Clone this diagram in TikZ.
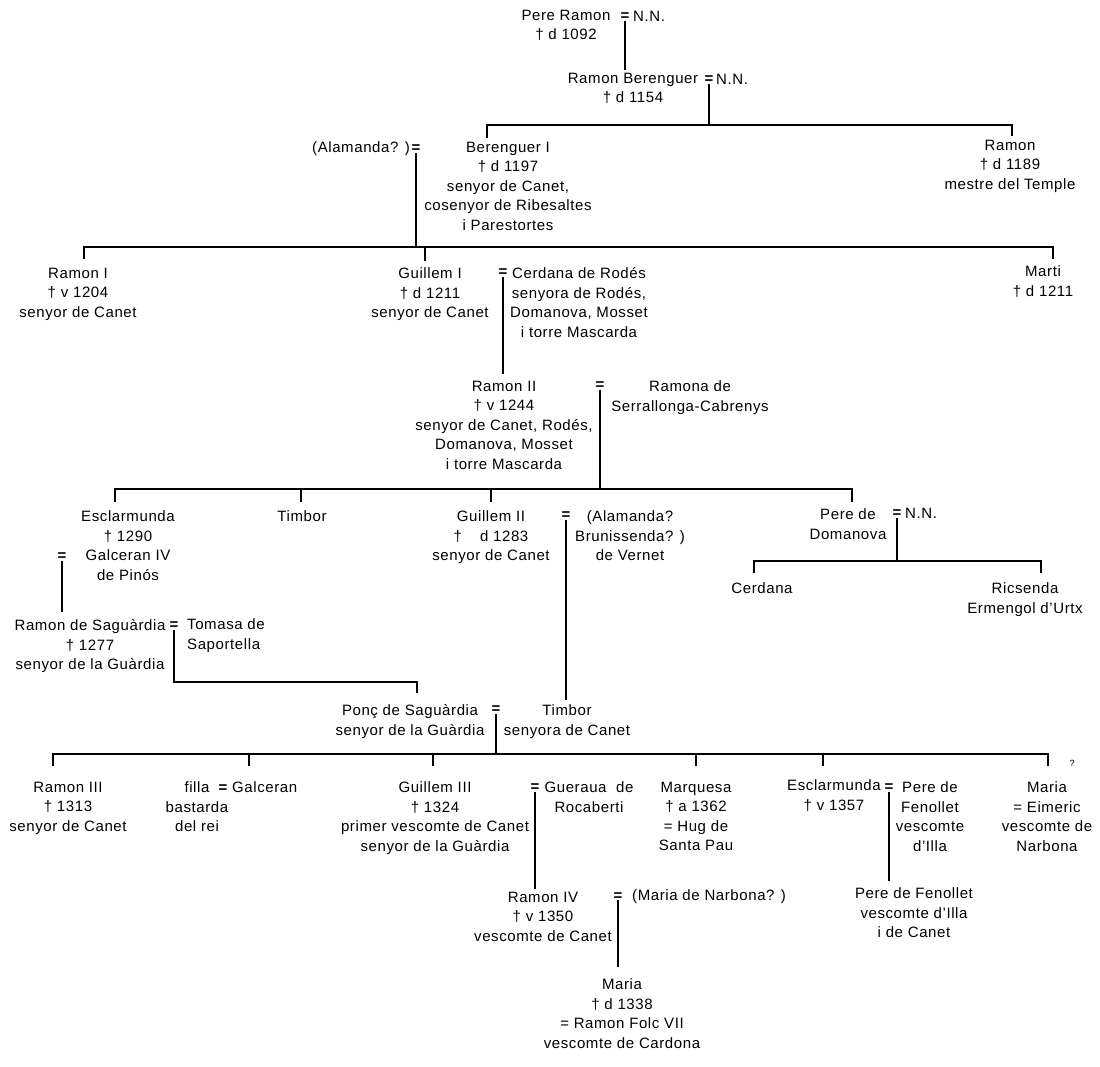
\documentclass[tikz,border=0pt]{standalone}
\usepackage{fontspec}
\setmainfont{Liberation Sans}[LetterSpace=4]
\usetikzlibrary{calc}
\tikzset{
  every node/.style={font=\fontsize{15}{19.5}\selectfont, inner sep=0pt, align=center},
  p/.style={anchor=north, align=center},
  pl/.style={anchor=north west, align=left},
  eqs/.style={anchor=base, font=\fontsize{15}{19.5}\selectfont\bfseries},
  lw/.style={anchor=base west},
  ln/.style={line width=1.3pt, line cap=butt}
}
\begin{document}
\begin{tikzpicture}[x=1pt,y=-1pt]
\useasboundingbox (0,0) rectangle (1100,1066);
\fill[white] (0,0) rectangle (1100,1066);

% ---------------- nodes ----------------
\node[p] (pr) at (566,9.5) {Pere Ramon\\† d 1092};
\node[eqs] (e0) at (625,20.5) {=};
\node[lw] (nn0) at (633,21) {N.N.};

\node[p] (rb) at (633,72.5) {Ramon Berenguer\\† d 1154};
\node[eqs] (e1) at (709,83.5) {=};
\node[lw] (nn1) at (716,84) {N.N.};

\node[p] (berI) at (508,141.5) {Berenguer I\\† d 1197\\senyor de Canet,\\cosenyor de Ribesaltes\\i Parestortes};
\node[anchor=base east] (alam) at (410,152.5) {(Alamanda? )};
\node[eqs] (e2) at (416,152.5) {=};
\node[p] (ramT) at (1010,139.5) {Ramon\\† d 1189\\mestre del Temple};

\node[p] (ramI) at (78,267.5) {Ramon I\\† v 1204\\senyor de Canet};
\node[p] (guiI) at (430,267.5) {Guillem I\\† d 1211\\senyor de Canet};
\node[eqs] (e3) at (503,276.5) {=};
\node[p] (cerd) at (579,267.5) {Cerdana de Rodés\\senyora de Rodés,\\Domanova, Mosset\\i torre Mascarda};
\node[p] (marti) at (1043,265.5) {Marti\\† d 1211};

\node[p] (ramII) at (504,380.5) {Ramon II\\† v 1244\\senyor de Canet, Rodés,\\Domanova, Mosset\\i torre Mascarda};
\node[eqs] (e4) at (600,389.5) {=};
\node[p] (ramona) at (690,380.5) {Ramona de\\Serrallonga-Cabrenys};

\node[p] (esc1) at (128,510.5) {Esclarmunda\\† 1290\\Galceran IV\\de Pinós};
\node[eqs] (e5) at (62,560.5) {=};
\node[p] (tim1) at (302,510.5) {Timbor};
\node[p] (guiII) at (491,510.5) {Guillem II\\†\hspace{1.2em}d 1283\\senyor de Canet};
\node[eqs] (e6) at (566,519.5) {=};
\node[p] (alam2) at (630,510.5) {(Alamanda?\\Brunissenda? )\\de Vernet};
\node[p] (pered) at (848,508.5) {Pere de\\Domanova};
\node[eqs] (e7) at (897,517.5) {=};
\node[lw] (nn2) at (905,518) {N.N.};

\node[p] (cerd2) at (762,582.5) {Cerdana};
\node[p] (ric) at (1025,582.5) {Ricsenda\\Ermengol d’Urtx};

\node[p] (ramS) at (90,619.5) {Ramon de Saguàrdia\\† 1277\\senyor de la Guàrdia};
\node[eqs] (e8) at (174,629.5) {=};
\node[pl] (toma) at (187,618.5) {Tomasa de\\Saportella};

\node[p] (ponc) at (410,704.5) {Ponç de Saguàrdia\\senyor de la Guàrdia};
\node[eqs] (e9) at (496,713.5) {=};
\node[p] (tim2) at (567,704.5) {Timbor\\senyora de Canet};

\node[p] (ramIII) at (68,781.5) {Ramon III\\† 1313\\senyor de Canet};
\node[p] (filla) at (197,781.5) {filla\\bastarda\\del rei};
\node[eqs] (e10) at (223,792.5) {=};
\node[lw] (galc) at (232,792.5) {Galceran};
\node[p] (guiIII) at (435,781.5) {Guillem III\\† 1324\\primer vescomte de Canet\\senyor de la Guàrdia};
\node[eqs] (e11) at (535,791.5) {=};
\node[p] (guer) at (589,781.5) {Gueraua\ \ de\\Rocaberti};
\node[p] (marq) at (696,781.5) {Marquesa\\† a 1362\\= Hug de\\Santa Pau};
\node[p] (esc2) at (834,779.5) {Esclarmunda\\† v 1357};
\node[eqs] (e12) at (889,791.5) {=};
\node[p] (pereF) at (930,781.5) {Pere de\\Fenollet\\vescomte\\d’Illa};
\node[p] (maria1) at (1047,781.5) {Maria\\= Eimeric\\vescomte de\\Narbona};
\node[font=\fontsize{9}{10}\selectfont] (q) at (1072,763) {?};

\node[p] (ramIV) at (543,891.5) {Ramon IV\\† v 1350\\vescomte de Canet};
\node[eqs] (e13) at (618,900) {=};
\node[lw] (marN) at (632,900.5) {(Maria de Narbona? )};
\node[p] (pereF2) at (914,887.5) {Pere de Fenollet\\vescomte d’Illa\\i de Canet};

\node[p] (maria2) at (622,978.5) {Maria\\† d 1338\\= Ramon Folc VII\\vescomte de Cardona};

% ---------------- bar levels ----------------
\coordinate (b1) at (0,125);
\coordinate (b2) at (0,247);
\coordinate (b3) at (0,489);
\coordinate (b4) at (0,561);
\coordinate (b5) at (0,682);
\coordinate (b6) at (0,754);

% ---------------- connectors ----------------
% direct descent lines
\draw[ln] (e0.south) -- ($(e0.south |- rb.north)+(0,-3)$);
\draw[ln] (e3.south) -- ($(e3.south |- ramII.north)+(0,-7)$);
\draw[ln] (e5.south) -- ($(e5.south |- ramS.north)+(0,-8)$);
\draw[ln] (e6.south) -- ($(e6.south |- tim2.north)+(0,-5)$);
\draw[ln] (e11.south) -- ($(e11.south |- ramIV.north)+(0,-3)$);
\draw[ln] (e12.south) -- ($(e12.south |- pereF2.north)+(0,-7)$);
\draw[ln] (e13.south) -- ($(e13.south |- maria2.north)+(0,-12)$);

% Ramon Berenguer's children
\path ($(berI.north)+(-21,-4)$) coordinate (t1a) ($(ramT.north)+(2,-4)$) coordinate (t1b);
\draw[ln] (e1.south) -- (e1.south |- b1);
\draw[ln] (t1a) -- (t1a |- b1) -- (t1b |- b1) -- (t1b);

% Berenguer I's children
\path ($(ramI.north)+(6,-9)$) coordinate (t2a) ($(guiI.north)+(-5,-7)$) coordinate (t2b)
      ($(marti.north)+(10,-7)$) coordinate (t2c);
\draw[ln] (e2.south) -- (e2.south |- b2);
\draw[ln] (t2a) -- (t2a |- b2) -- (t2c |- b2) -- (t2c);
\draw[ln] (t2b) -- (t2b |- b2);

% Ramon II's children
\path ($(esc1.north)+(-13,-9)$) coordinate (t3a) ($(tim1.north)+(-1,-9)$) coordinate (t3b)
      ($(guiII.north)+(0,-9)$) coordinate (t3c) ($(pered.north)+(4,-7)$) coordinate (t3d);
\draw[ln] (e4.south) -- (e4.south |- b3);
\draw[ln] (t3a) -- (t3a |- b3) -- (t3d |- b3) -- (t3d);
\draw[ln] (t3b) -- (t3b |- b3);
\draw[ln] (t3c) -- (t3c |- b3);

% Pere de Domanova's children
\path ($(cerd2.north)+(-8,-10)$) coordinate (t4a) ($(ric.north)+(16,-10)$) coordinate (t4b);
\draw[ln] (e7.south) -- (e7.south |- b4);
\draw[ln] (t4a) -- (t4a |- b4) -- (t4b |- b4) -- (t4b);

% Ramon de Saguardia -> Ponc
\path ($(ponc.north)+(7,-12)$) coordinate (t5a);
\draw[ln] (e8.south) -- (e8.south |- b5) -- (t5a |- b5) -- (t5a);

% Ponc's children
\path ($(ramIII.north)+(-15,-16)$) coordinate (t6a) ($(filla.north)+(52,-16)$) coordinate (t6b)
      ($(guiIII.north)+(-2,-16)$) coordinate (t6c) ($(marq.north)+(0,-16)$) coordinate (t6d)
      ($(esc2.north)+(-11,-14)$) coordinate (t6e) ($(maria1.north)+(1,-16)$) coordinate (t6f);
\draw[ln] (e9.south) -- (e9.south |- b6);
\draw[ln] (t6a) -- (t6a |- b6) -- (t6f |- b6) -- (t6f);
\draw[ln] (t6b) -- (t6b |- b6);
\draw[ln] (t6c) -- (t6c |- b6);
\draw[ln] (t6d) -- (t6d |- b6);
\draw[ln] (t6e) -- (t6e |- b6);

\end{tikzpicture}
\end{document}
